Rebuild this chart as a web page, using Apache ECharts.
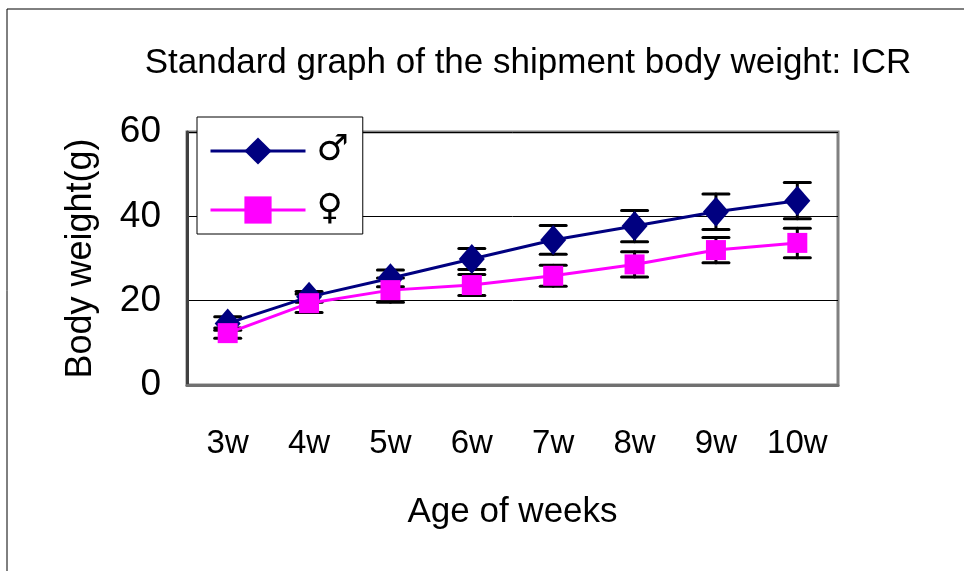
<!DOCTYPE html>
<html>
<head>
<meta charset="utf-8">
<script src="https://cdn.jsdelivr.net/npm/echarts@6/dist/echarts.min.js"></script>
<style>
  html, body { margin: 0; padding: 0; background: #fff; }
  #chart { width: 964px; height: 571px; }
</style>
</head>
<body>
<div id="chart"></div>
<script>
// 数据
const weeks = ['3w', '4w', '5w', '6w', '7w', '8w', '9w', '10w'];
const male = [14.6, 20.9, 25.3, 29.9, 34.4, 37.7, 41.1, 43.7];
const maleSD = [1.6, 1.3, 2.0, 2.5, 3.4, 3.7, 4.2, 4.3];
const female = [12.3, 19.4, 22.5, 23.7, 25.9, 28.6, 32.0, 33.7];
const femaleSD = [1.2, 2.2, 2.9, 2.5, 2.5, 3.0, 3.0, 3.5];
const yTicks = [0, 20, 40, 60];

const font = "'Liberation Sans', sans-serif";

const chart = echarts.init(document.getElementById('chart'));

// 误差线
const errData = (vals, sd) => vals.map((v, i) => [i, v - sd[i], v + sd[i]]);
const renderErr = (params, api) => {
  const lo = api.coord([api.value(0), api.value(1)]);
  const hi = api.coord([api.value(0), api.value(2)]);
  const half = 13;
  const style = { stroke: '#000', lineWidth: 3, lineCap: 'round' };
  return {
    type: 'group',
    children: [
      { type: 'line', shape: { x1: lo[0], y1: lo[1], x2: hi[0], y2: hi[1] }, style },
      { type: 'line', shape: { x1: lo[0] - half, y1: lo[1], x2: lo[0] + half, y2: lo[1] }, style },
      { type: 'line', shape: { x1: hi[0] - half, y1: hi[1], x2: hi[0] + half, y2: hi[1] }, style }
    ]
  };
};

const option = {
  animation: false,
  backgroundColor: '#fff',
  textStyle: { fontFamily: font },
  title: {
    text: 'Standard graph of the shipment body weight: ICR',
    left: 523,
    textAlign: 'center',
    top: 41,
    textStyle: { fontSize: 35, fontWeight: 'normal', color: '#000', fontFamily: font }
  },
  graphic: [{
    type: 'rect',
    shape: { x: 7, y: 9, width: 1200, height: 1000 },
    style: { fill: 'none', stroke: '#000', lineWidth: 1 },
    silent: true,
    z: -10
  }],
  legend: {
    orient: 'vertical',
    left: 197,
    top: 117,
    padding: [16, 14, 6, 12],
    itemWidth: 95,
    itemHeight: 34,
    itemGap: 23,
    backgroundColor: '#fff',
    borderColor: '#000',
    borderWidth: 1,
    z: 20,
    lineStyle: { width: 3 },
    textStyle: { fontSize: 36, color: '#000', fontFamily: 'DejaVu Sans', padding: [0, 0, 0, 6] },
    data: ['♂', '♀']
  },
  grid: {
    left: 187,
    right: 964 - 838,
    top: 132,
    bottom: 571 - 385,
    show: true,
    borderColor: '#808080',
    borderWidth: 3,
    backgroundColor: 'transparent'
  },
  xAxis: {
    type: 'category',
    data: weeks,
    name: 'Age of weeks',
    nameLocation: 'middle',
    nameGap: 110,
    nameTextStyle: { fontSize: 35, color: '#000', fontFamily: font },
    axisLine: { lineStyle: { color: '#707070', width: 3 } },
    axisTick: { inside: true, length: 10, lineStyle: { color: '#404040', width: 1 } },
    axisLabel: { fontSize: 33, color: '#000', margin: 42, fontFamily: font }
  },
  yAxis: {
    type: 'value',
    min: 0,
    max: 60,
    interval: 20,
    name: 'Body weight(g)',
    nameLocation: 'middle',
    nameGap: 88,
    nameTextStyle: { fontSize: 36, color: '#000', fontFamily: font },
    axisLine: { show: true, lineStyle: { color: '#404040', width: 3 } },
    axisTick: { show: false },
    axisLabel: { fontSize: 37, color: '#000', margin: 26, fontFamily: font,
      formatter: v => yTicks.includes(v) ? String(v) : '' },
    splitLine: { show: true, lineStyle: { color: '#000', width: 1 } }
  },
  series: [
    {
      name: '♂',
      type: 'line',
      data: male,
      symbol: 'diamond',
      symbolSize: [26, 30],
      itemStyle: { color: '#000080' },
      lineStyle: { color: '#000080', width: 3 },
      z: 3
    },
    {
      name: '♀',
      type: 'line',
      data: female,
      symbol: 'rect',
      symbolSize: 20,
      itemStyle: { color: '#ff00ff' },
      lineStyle: { color: '#ff00ff', width: 3 },
      z: 4
    },
    {
      type: 'custom',
      name: 'maleErr',
      renderItem: renderErr,
      data: errData(male, maleSD),
      z: 2
    },
    {
      type: 'custom',
      name: 'femaleErr',
      renderItem: renderErr,
      data: errData(female, femaleSD),
      z: 2
    }
  ]
};

chart.setOption(option);
</script>
</body>
</html>
